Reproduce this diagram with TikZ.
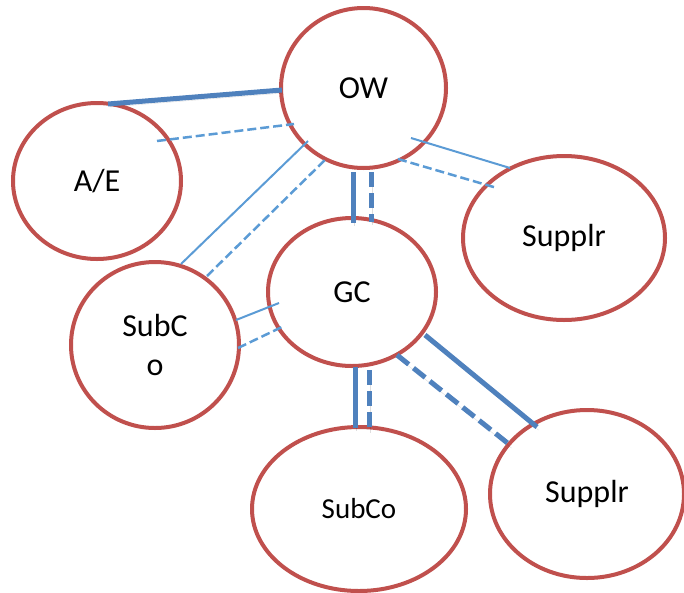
\documentclass[tikz,border=0pt]{standalone}
\usepackage{fontspec}
\setmainfont{Carlito}
\usetikzlibrary{shapes.geometric,calc}
\definecolor{rimred}{HTML}{C0504D}
\definecolor{thickblue}{HTML}{4F81BD}
\definecolor{thinblue}{HTML}{5B9BD5}
\tikzset{
  party/.style={ellipse, draw=rimred, line width=4pt, fill=white, inner sep=0pt,
    font=\fontsize{32}{39}\selectfont, align=center},
  heavy/.style={thickblue, line width=5pt,
    preaction={draw=black, opacity=0.13, transform canvas={shift={(1.5pt,-3pt)}}}},
  heavydash/.style={heavy, dash pattern=on 15pt off 6pt},
  light/.style={thinblue, line width=2pt},
  lightdash/.style={thinblue, line width=2.5pt, dash pattern=on 9pt off 4pt},
}
\begin{document}
\begin{tikzpicture}[x=1pt,y=-1pt]
\useasboundingbox (0,0) rectangle (684,592);
\node[party, minimum width=165pt, minimum height=160pt] (OW) at (363.5,88) {OW};
\node[party, minimum width=168pt, minimum height=156pt] (AE) at (97,181) {A/E};
\node[party, minimum width=202pt, minimum height=164pt] (SupT) at (564,238) {Supplr};
\node[party, minimum width=168pt, minimum height=148pt] (GC) at (352,292) {GC};
\node[party, minimum width=168pt, minimum height=166pt] (SubL) at (155,345) {SubC\\o};
\node[party, minimum width=214pt, minimum height=164pt, font=\fontsize{29}{35}\selectfont] (SubB) at (359,509) {SubCo};
\node[party, minimum width=194pt, minimum height=168pt] (SupB) at (587,494) {Supplr};

% OW -- A/E
\draw[heavy] ($(AE)+(11,-77)$) -- ($(OW)+(-81.5,2)$);
\draw[lightdash] ($(AE)+(60,-40)$) -- ($(OW)+(-69.5,36)$);
% OW -- SubCo (left)
\draw[light] ($(SubL)+(26,-81)$) -- ($(OW)+(-55.5,53)$);
\draw[lightdash] ($(SubL)+(52,-69)$) -- ($(OW)+(-36.5,70)$);
% GC -- SubCo (left)
\draw[light] ($(SubL)+(81,-25)$) -- ($(GC)+(-73,11)$);
\draw[lightdash] ($(SubL)+(83,3)$) -- ($(GC)+(-68,34)$);
% OW -- GC
\draw[heavy] ($(OW)+(-10.5,84)$) -- ($(GC)+(1,-69)$);
\draw[heavydash] ($(OW)+(7.5,84)$) -- ($(GC)+(19,-70)$);
% OW -- Supplr (top)
\draw[light] ($(OW)+(47.5,50)$) -- ($(SupT)+(-54,-70)$);
\draw[lightdash] ($(OW)+(34.5,71)$) -- ($(SupT)+(-67,-50)$);
% GC -- SubCo (bottom)
\draw[heavy] ($(GC)+(3,75)$) -- ($(SubB)+(-4,-81)$);
\draw[heavydash] ($(GC)+(17,78)$) -- ($(SubB)+(10,-79)$);
% GC -- Supplr (bottom)
\draw[heavy] ($(GC)+(73,43)$) -- ($(SupB)+(-50,-67)$);
\draw[heavydash] ($(GC)+(45,63)$) -- ($(SupB)+(-77,-49)$);
\end{tikzpicture}
\end{document}
